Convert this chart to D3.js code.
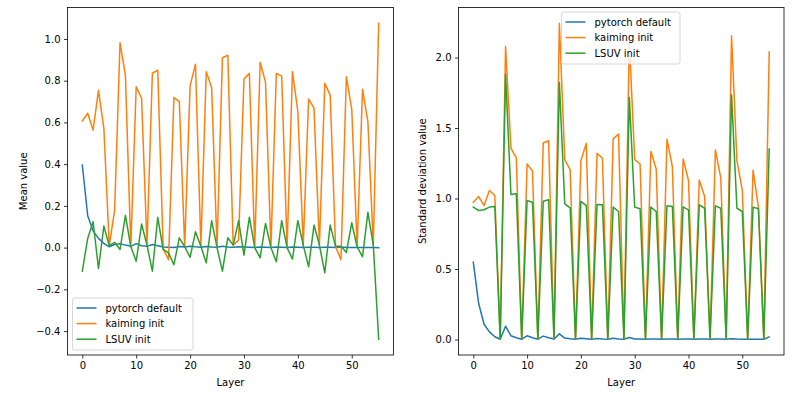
<!DOCTYPE html>
<html>
<head>
<meta charset="utf-8">
<script src="https://cdn.jsdelivr.net/npm/d3@7"></script>
<style>
  body { margin: 0; background: #fff; }
  svg { display: block; font-family: "DejaVu Sans", sans-serif; }
</style>
</head>
<body>
<div id="chart"></div>
<script>
// layer index 0..55
const layers = d3.range(56);

const seriesNames = ['pytorch default', 'kaiming init', 'LSUV init'];
const colors = ['#1f77b4', '#ff7f0e', '#2ca02c'];

// mean of activations per layer
const meanDefault = [0.396, 0.153, 0.08, 0.044, 0.02, 0.004, 0.015, 0.019, 0.012, 0.006,
  0.019, 0.009, 0.006, 0.015, 0.009, 0.003, 0.002, 0.001, 0.005, 0.003,
  0.007, 0.004, 0.002, 0.005, 0.003, 0.002, 0.006, 0.003, 0.002, 0.004,
  0.003, 0.002, 0.001, 0.003, 0.002, 0.001, 0.003, 0.002, 0.001, 0.003,
  0.002, 0.001, 0.002, 0.002, 0.001, 0.002, 0.002, 0.001, 0.003, 0.001,
  0.001, 0.001, 0.001, 0.001, 0.000, -0.001];
const meanKaiming = [0.607, 0.644, 0.563, 0.754, 0.57, 0.01, 0.18, 0.982, 0.824, 0.004,
  0.771, 0.716, 0.012, 0.836, 0.85, -0.005, -0.058, 0.719, 0.70, 0.005,
  0.775, 0.879, 0.006, 0.843, 0.767, 0.0, 0.91, 0.922, 0.012, 0.036,
  0.808, 0.835, 0.0, 0.888, 0.792, 0.0, 0.835, 0.822, 0.0, 0.843,
  0.651, 0.012, 0.712, 0.668, 0.012, 0.788, 0.731, 0.005, -0.058, 0.819,
  0.664, 0.003, 0.759, 0.603, 0.012, 1.075];
const meanLSUV = [-0.113, 0.044, 0.124, -0.1, 0.103, 0.009, 0.025, -0.009, 0.155, 0.004,
  -0.065, 0.113, 0.012, -0.113, 0.145, -0.008, -0.025, -0.082, 0.047, 0.005,
  -0.047, 0.076, 0.006, -0.073, 0.129, 0.0, -0.113, 0.047, 0.012, 0.129,
  -0.036, 0.146, 0.0, -0.049, 0.116, 0.0, -0.068, 0.129, 0.0, -0.055,
  0.129, 0.012, -0.092, 0.108, 0.012, -0.121, 0.108, 0.006, 0.006, -0.023,
  0.119, 0.003, -0.044, 0.169, 0.012, -0.439];

// standard deviation per layer
const stdDefault = [0.549, 0.255, 0.108, 0.054, 0.019, 0.002, 0.094, 0.026, 0.012, 0.002,
  0.026, 0.012, 0.002, 0.024, 0.012, 0.003, 0.04, 0.01, 0.005, 0.002,
  0.008, 0.005, 0.002, 0.007, 0.004, 0.002, 0.008, 0.004, 0.002, 0.014,
  0.004, 0.003, 0.002, 0.003, 0.003, 0.002, 0.003, 0.003, 0.002, 0.003,
  0.003, 0.002, 0.003, 0.003, 0.002, 0.003, 0.003, 0.002, 0.006, 0.003,
  0.002, 0.002, 0.002, 0.002, 0.002, 0.018];
const stdKaiming = [0.974, 1.014, 0.95, 1.057, 1.021, 0.002, 2.078, 1.356, 1.288, 0.002,
  1.245, 1.196, 0.002, 1.394, 1.41, 0.003, 2.243, 1.276, 1.205, 0.002,
  1.269, 1.391, 0.002, 1.321, 1.286, 0.002, 1.423, 1.458, 0.002, 2.12,
  1.276, 1.245, 0.002, 1.333, 1.21, 0.002, 1.42, 1.227, 0.002, 1.281,
  1.128, 0.002, 1.132, 1.014, 0.002, 1.345, 1.144, 0.002, 2.154, 1.269,
  1.057, 0.002, 1.2, 0.939, 0.002, 2.04];
const stdLSUV = [0.939, 0.915, 0.92, 0.939, 0.943, 0.002, 1.882, 1.028, 1.033, 0.002,
  0.986, 0.974, 0.002, 0.98, 0.991, 0.002, 1.823, 0.962, 0.934, 0.002,
  0.98, 0.95, 0.002, 0.958, 0.955, 0.002, 0.939, 0.908, 0.002, 1.717,
  0.939, 0.927, 0.002, 0.939, 0.908, 0.002, 0.948, 0.943, 0.002, 0.941,
  0.92, 0.002, 0.955, 0.931, 0.002, 0.948, 0.931, 0.002, 1.734, 0.931,
  0.908, 0.002, 0.939, 0.927, 0.002, 1.352];

const xTicks = [0, 10, 20, 30, 40, 50];
const meanTicks = [-0.4, -0.2, 0.0, 0.2, 0.4, 0.6, 0.8, 1.0];
const stdTicks = [0.0, 0.5, 1.0, 1.5, 2.0];

const width = 800, height = 397;
const svg = d3.select('#chart').append('svg')
  .attr('width', width)
  .attr('height', height);

// matplotlib style 5% margins
function padded(ext) {
  const r = ext[1] - ext[0];
  return [ext[0] - r * 0.05, ext[1] + r * 0.05];
}

function drawPanel(opts) {
  const { left, right, top, bottom, series, yTicks, yLabel, legend } = opts;

  const x = d3.scaleLinear().domain(padded(d3.extent(layers))).range([left, right]);
  const allVals = series.flat();
  const y = d3.scaleLinear().domain(padded(d3.extent(allVals))).range([bottom, top]);

  const g = svg.append('g');

  const clipId = 'clip' + Math.round(left);
  g.append('clipPath').attr('id', clipId)
    .append('rect')
    .attr('x', left).attr('y', top)
    .attr('width', right - left).attr('height', bottom - top);

  const line = d3.line()
    .x((d, i) => x(layers[i]))
    .y(d => y(d));

  series.forEach((s, k) => {
    g.append('path')
      .datum(s)
      .attr('clip-path', `url(#${clipId})`)
      .attr('fill', 'none')
      .attr('stroke', colors[k])
      .attr('stroke-width', 1.5)
      .attr('stroke-linejoin', 'round')
      .attr('stroke-linecap', 'square')
      .attr('d', line);
  });

  // axes
  const xAxis = d3.axisBottom(x).tickValues(xTicks).tickSize(3.5).tickPadding(3.5)
    .tickFormat(d3.format('d'));
  const gx = g.append('g').attr('transform', `translate(0,${bottom})`).call(xAxis);

  const yAxis = d3.axisLeft(y).tickValues(yTicks).tickSize(3.5).tickPadding(3.5)
    .tickFormat(d3.format('.1f'));
  const gy = g.append('g').attr('transform', `translate(${left},0)`).call(yAxis);

  [gx, gy].forEach(a => {
    a.select('.domain').remove();
    a.selectAll('.tick line').attr('stroke', '#000').attr('stroke-width', 0.8);
    a.selectAll('.tick text').attr('fill', '#000').style('font-size', '10px')
      .style('font-family', '"DejaVu Sans", sans-serif');
  });

  // frame
  g.append('rect')
    .attr('x', left).attr('y', top)
    .attr('width', right - left).attr('height', bottom - top)
    .attr('fill', 'none').attr('stroke', '#000').attr('stroke-width', 0.8);

  g.append('text')
    .attr('x', (left + right) / 2).attr('y', bottom + 31)
    .attr('text-anchor', 'middle')
    .style('font-size', '10px')
    .text('Layer');

  g.append('text')
    .attr('transform', `translate(${opts.yLabelX},${(top + bottom) / 2}) rotate(-90)`)
    .attr('text-anchor', 'middle')
    .style('font-size', '10px')
    .text(yLabel);

  // legend
  const lg = g.append('g').attr('transform', `translate(${legend.x},${legend.y})`);
  lg.append('rect')
    .attr('width', legend.w).attr('height', 52)
    .attr('rx', 2.5).attr('ry', 2.5)
    .attr('fill', 'rgba(255,255,255,0.8)')
    .attr('stroke', '#cccccc').attr('stroke-width', 0.8);
  seriesNames.forEach((name, k) => {
    const yy = 10 + k * 15.6;
    lg.append('line')
      .attr('x1', 4).attr('x2', 24).attr('y1', yy).attr('y2', yy)
      .attr('stroke', colors[k]).attr('stroke-width', 1.5);
    lg.append('text')
      .attr('x', 33).attr('y', yy + 3.6)
      .style('font-size', '10px')
      .text(name);
  });
}

drawPanel({
  left: 67.5, right: 393.5, top: 7.5, bottom: 355,
  series: [meanDefault, meanKaiming, meanLSUV],
  yTicks: meanTicks,
  yLabel: 'Mean value',
  yLabelX: 27,
  legend: { x: 72.5, y: 298, w: 120.5 }
});

drawPanel({
  left: 458.5, right: 784, top: 7.5, bottom: 355,
  series: [stdDefault, stdKaiming, stdLSUV],
  yTicks: stdTicks,
  yLabel: 'Standard deviation value',
  yLabelX: 426,
  legend: { x: 561.5, y: 12, w: 118.5 }
});
</script>
</body>
</html>
